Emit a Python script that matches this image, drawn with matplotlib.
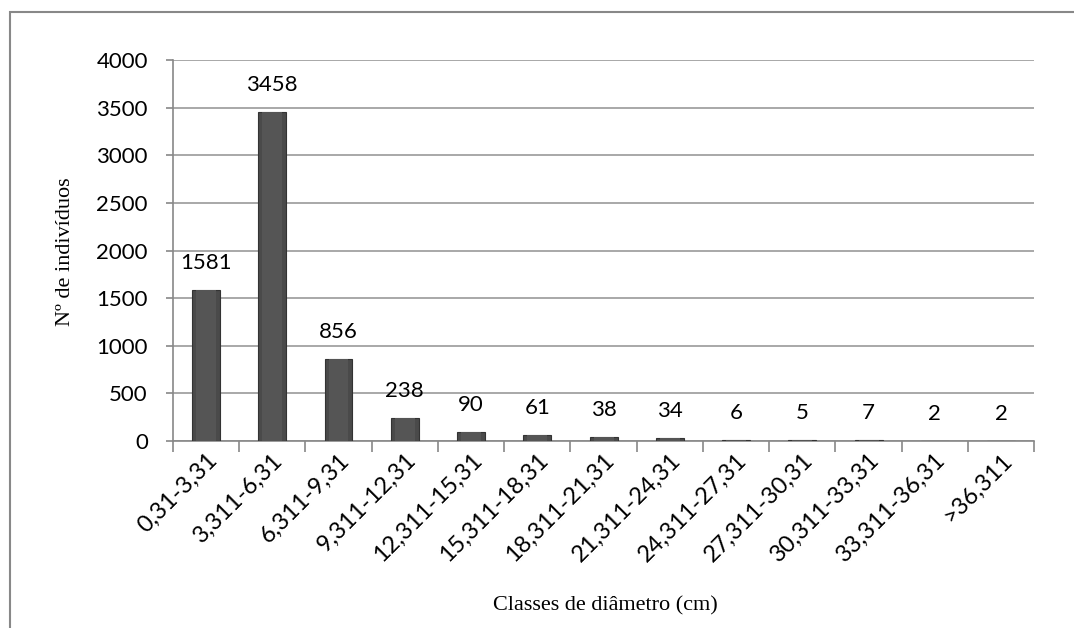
import matplotlib
matplotlib.use('agg')
import matplotlib.pyplot as plt
from matplotlib.patches import Rectangle
import numpy as np

classes = ['0,31-3,31', '3,311-6,31', '6,311-9,31', '9,311-12,31', '12,311-15,31',
           '15,311-18,31', '18,311-21,31', '21,311-24,31', '24,311-27,31',
           '27,311-30,31', '30,311-33,31', '33,311-36,31', '>36,311']
counts = [1581, 3458, 856, 238, 90, 61, 38, 34, 6, 5, 7, 2, 2]

tick_font = 'Lato'
label_font = 'Liberation Serif'

fig = plt.figure(figsize=(10.74, 6.28), dpi=100)
ax = fig.add_axes([0.161, 0.298, 0.802, 0.606])

x = np.arange(len(classes))
# main bar + slightly lighter centre for the bevel look
ax.bar(x, counts, width=0.42, color='#4a4a4a', edgecolor='#333333', linewidth=0.8, zorder=3)
ax.bar(x, counts, width=0.30, color='#555555', linewidth=0, zorder=4)

for xi, v in zip(x, counts):
    ax.annotate(str(v), (xi, v), xytext=(0, 19.5), textcoords='offset points',
                ha='center', va='center', fontsize=16, family=tick_font, zorder=5)

ax.set_xlim(-0.5, len(classes) - 0.5)
ax.set_ylim(0, 4000)
ax.set_yticks(np.arange(0, 4001, 500))
ax.tick_params(axis='y', labelsize=16, length=5, color='#888888', width=1.2, pad=13)
for t in ax.get_yticklabels():
    t.set_family(tick_font)

# category ticks between bars
ax.set_xticks(np.arange(-0.5, len(classes) - 0.4, 1), minor=False)
ax.set_xticklabels([])
ax.tick_params(axis='x', which='major', length=8, color='#888888', width=1.2)
ax.set_xticks(x, minor=True)
ax.set_xticklabels(classes, minor=True, rotation=45, ha='right', rotation_mode='anchor',
                   fontsize=17, family=tick_font)
ax.tick_params(axis='x', which='minor', length=0, pad=6)

ax.grid(axis='y', color='#999999', linewidth=1.2, zorder=0)
ax.set_axisbelow(True)
for s in ['top', 'right']:
    ax.spines[s].set_visible(False)
ax.spines['left'].set_color('#888888')
ax.spines['left'].set_linewidth(1.2)
ax.spines['bottom'].set_color('#888888')
ax.spines['bottom'].set_linewidth(1.2)

fig.text(0.061, 0.60, 'Nº de indivíduos', rotation=90, ha='center', va='center',
         fontsize=16, family=label_font)
fig.text(0.564, 0.035, 'Classes de diâmetro (cm)', ha='center', va='center',
         fontsize=16, family=label_font)

fig.patches.append(Rectangle((0.0093, -0.1), 1.2, 1.1 - 12 / 628, transform=fig.transFigure,
                             fill=False, edgecolor='#888888', linewidth=1.5))

plt.savefig('out.png', dpi=100)
